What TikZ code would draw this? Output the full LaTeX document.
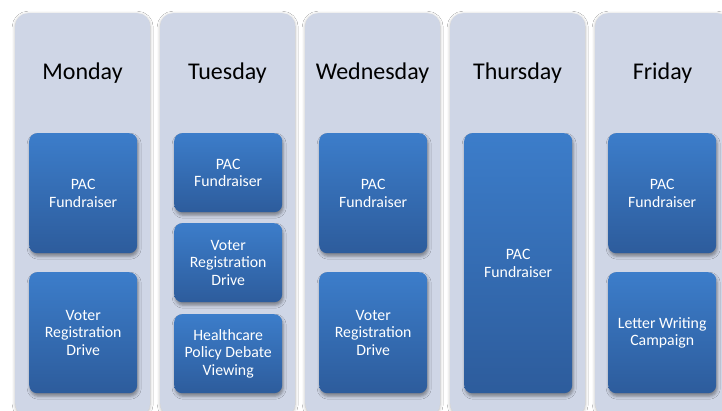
\documentclass[tikz,border=0pt]{standalone}
\usepackage{fontspec}
\setmainfont{Carlito}
\usetikzlibrary{shadows.blur}
\definecolor{colfill}{HTML}{CFD6E6}
\definecolor{boxtop}{HTML}{3C7DCA}
\definecolor{boxbot}{HTML}{2D5C9C}
\tikzset{
  daycol/.style={draw=none, fill=colfill, rounded corners=13pt, minimum width=135pt, minimum height=403pt, anchor=north west, inner sep=0pt,
    blur shadow={shadow xshift=0pt, shadow yshift=-1pt, shadow blur radius=3pt, shadow opacity=30}},
  daylabel/.style={font=\fontsize{24}{28}\selectfont, text=black, inner sep=0pt},
  event/.style={draw=none, rounded corners=8pt, top color=boxtop, bottom color=boxbot, minimum width=108pt, anchor=north west, inner sep=2pt,
    text=white, align=center, font=\fontsize{15.8}{17.5}\selectfont,
    blur shadow={shadow xshift=1pt, shadow yshift=-3pt, shadow blur radius=3pt, shadow opacity=40}},
}
\begin{document}
\begin{tikzpicture}[x=1pt,y=-1pt]
\useasboundingbox (0,0) rectangle (722,411);
\clip (0,0) rectangle (722,411);
\fill[white] (0,0) rectangle (722,411);
% columns
\node[daycol] (c1) at (15,13) {};
\node[daycol] (c2) at (160,13) {};
\node[daycol] (c3) at (305,13) {};
\node[daycol] (c4) at (450,13) {};
\node[daycol] (c5) at (595,13) {};
% day labels
\node[daylabel] (d1) at (82.5,73) {Monday};
\node[daylabel] (d2) at (227.5,73) {Tuesday};
\node[daylabel] (d3) at (372.5,73) {Wednesday};
\node[daylabel] (d4) at (517.5,73) {Thursday};
\node[daylabel] (d5) at (662.5,73) {Friday};
% Monday
\node[event, minimum height=120pt] (m1) at (29,133) {PAC\\Fundraiser};
\node[event, minimum height=121pt] (m2) at (29,272) {Voter\\Registration\\Drive};
% Tuesday
\node[event, minimum height=79pt] (t1) at (174,133) {PAC\\Fundraiser};
\node[event, minimum height=79pt] (t2) at (174,223) {Voter\\Registration\\Drive};
\node[event, minimum height=79pt] (t3) at (174,314) {Healthcare\\Policy Debate\\Viewing};
% Wednesday
\node[event, minimum height=120pt] (w1) at (319,133) {PAC\\Fundraiser};
\node[event, minimum height=121pt] (w2) at (319,272) {Voter\\Registration\\Drive};
% Thursday
\node[event, minimum height=260pt] (h1) at (464,133) {PAC\\Fundraiser};
% Friday
\node[event, minimum height=120pt] (f1) at (608,133) {PAC\\Fundraiser};
\node[event, minimum height=121pt] (f2) at (608,272) {Letter Writing\\Campaign};
\end{tikzpicture}
\end{document}
